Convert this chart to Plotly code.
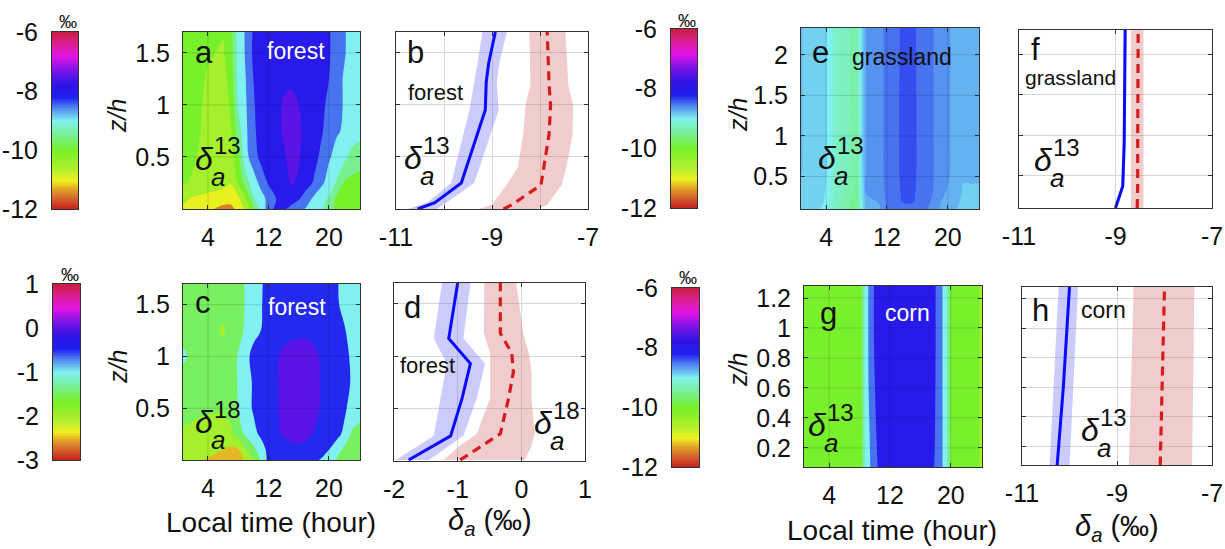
import numpy as np
import plotly.graph_objects as go

W, H = 1225, 549
FONT = "Arial, Liberation Sans, Helvetica, sans-serif"

# ------------------------------------------------------------------ data
# diurnal fields: rows = heights (z/h), columns = local time (hour)
HOURS_A = [0.5, 2, 4, 6, 7, 8, 9, 10, 11, 12, 13, 14, 15, 16, 17, 18, 19, 20, 21, 22, 23, 24.5]
Z_A = [0.0, 0.1, 0.25, 0.5, 0.75, 1.0, 1.25, 1.5, 1.75]
D13_FOREST = [
    [-10.8, -11.0, -11.15, -11.4, -11.4, -11.1, -10.6, -9.9, -9.1, -8.5, -8.1, -8.15, -8.4, -8.6, -8.8, -9.0, -9.2, -9.5, -9.9, -10.0, -10.1, -10.1],
    [-10.6, -10.8, -10.9, -11.0, -11.05, -10.85, -10.3, -9.3, -8.95, -8.6, -8.25, -8.05, -8.0, -8.2, -8.5, -8.85, -9.1, -9.3, -9.85, -10.0, -10.0, -10.0],
    [-10.2, -10.3, -10.5, -10.6, -10.72, -10.2, -9.5, -9.0, -8.6, -8.2, -8.0, -7.95, -7.72, -7.8, -8.05, -8.3, -8.65, -8.95, -9.3, -9.8, -9.9, -9.9],
    [-10.1, -10.2, -10.4, -10.5, -10.45, -9.9, -8.9, -8.5, -8.1, -8.0, -7.95, -7.8, -7.65, -7.72, -7.95, -8.1, -8.35, -8.7, -8.9, -9.1, -9.4, -9.6],
    [-10.0, -10.1, -10.4, -10.5, -10.3, -9.5, -8.85, -8.35, -8.05, -7.95, -7.9, -7.7, -7.6, -7.68, -7.9, -8.05, -8.2, -8.45, -8.7, -8.8, -9.0, -9.1],
    [-10.0, -10.1, -10.35, -10.45, -10.2, -9.2, -8.8, -8.3, -8.05, -7.95, -7.9, -7.7, -7.6, -7.75, -7.95, -8.05, -8.2, -8.3, -8.55, -8.8, -9.0, -9.1],
    [-10.0, -10.05, -10.3, -10.4, -10.1, -9.1, -8.75, -8.25, -8.05, -7.95, -7.9, -7.85, -7.85, -7.9, -7.95, -8.0, -8.15, -8.25, -8.55, -8.8, -8.95, -9.1],
    [-10.0, -10.0, -10.2, -10.3, -10.0, -9.05, -8.7, -8.15, -8.0, -7.95, -7.9, -7.9, -7.9, -7.9, -7.95, -8.0, -8.1, -8.2, -8.5, -8.7, -8.95, -9.1],
    [-10.0, -10.0, -10.1, -10.2, -9.95, -9.0, -8.7, -8.2, -8.0, -7.95, -7.9, -7.9, -7.9, -7.9, -7.95, -8.0, -8.1, -8.2, -8.5, -8.7, -8.95, -9.1],
]
D18_FOREST = [
    [-2.0, -2.1, -2.3, -2.45, -2.5, -2.4, -2.2, -1.8, -1.2, -0.6, -0.5, -0.45, -0.45, -0.5, -0.55, -0.65, -0.8, -1.0, -1.3, -1.55, -1.6, -1.6],
    [-1.9, -2.0, -2.1, -2.25, -2.35, -2.3, -1.8, -1.4, -1.0, -0.6, -0.45, -0.4, -0.35, -0.35, -0.4, -0.45, -0.55, -0.75, -1.0, -1.35, -1.5, -1.55],
    [-1.8, -1.85, -1.9, -1.95, -1.85, -1.5, -1.15, -0.9, -0.65, -0.45, -0.3, -0.22, -0.15, -0.1, -0.15, -0.28, -0.3, -0.45, -0.6, -0.85, -1.3, -1.5],
    [-1.6, -1.65, -1.7, -1.7, -1.6, -1.25, -0.95, -0.7, -0.5, -0.4, -0.3, -0.15, -0.05, 0.0, 0.0, -0.1, -0.3, -0.4, -0.5, -0.65, -0.95, -1.05],
    [-1.5, -1.55, -1.6, -1.6, -1.55, -1.2, -0.95, -0.7, -0.5, -0.4, -0.3, -0.15, -0.05, 0.0, 0.0, -0.1, -0.3, -0.4, -0.45, -0.55, -0.8, -0.95],
    [-1.1, -1.4, -1.55, -1.6, -1.55, -1.2, -0.9, -0.6, -0.5, -0.45, -0.3, -0.15, -0.1, -0.05, -0.05, -0.15, -0.3, -0.4, -0.45, -0.55, -0.85, -1.0],
    [-1.45, -1.5, -1.6, -1.8, -1.6, -1.45, -1.15, -0.9, -0.75, -0.55, -0.45, -0.4, -0.35, -0.35, -0.35, -0.4, -0.45, -0.5, -0.55, -0.7, -0.95, -1.05],
    [-1.5, -1.55, -1.65, -1.6, -1.55, -1.45, -1.2, -0.95, -0.78, -0.6, -0.5, -0.45, -0.4, -0.4, -0.4, -0.45, -0.5, -0.55, -0.68, -0.88, -1.0, -1.05],
    [-1.5, -1.55, -1.6, -1.6, -1.55, -1.45, -1.2, -0.95, -0.8, -0.6, -0.5, -0.45, -0.4, -0.4, -0.4, -0.45, -0.5, -0.55, -0.7, -0.9, -1.0, -1.05],
]
HOURS_E = [0.5, 2, 3.5, 4.5, 5.5, 7, 8, 8.7, 9.3, 11, 12, 13, 14, 15.5, 16.5, 18, 19, 20, 21, 22, 23, 24.5]
Z_E = [0.1, 0.3, 0.6, 1.0, 1.5, 2.0, 2.4]
D13_GRASS = [
    [-8.85, -8.9, -8.95, -9.1, -9.3, -9.45, -9.55, -9.0, -8.75, -8.7, -8.55, -8.52, -8.45, -8.45, -8.52, -8.6, -8.7, -8.8, -8.8, -8.85, -8.85, -8.85],
    [-8.82, -8.87, -8.88, -9.05, -9.27, -9.35, -9.5, -8.95, -8.68, -8.66, -8.52, -8.5, -8.42, -8.42, -8.5, -8.56, -8.66, -8.7, -8.77, -8.82, -8.82, -8.82],
    [-8.8, -8.85, -8.85, -9.0, -9.25, -9.3, -9.45, -8.9, -8.66, -8.64, -8.5, -8.5, -8.4, -8.4, -8.5, -8.55, -8.65, -8.66, -8.75, -8.8, -8.8, -8.8],
    [-8.8, -8.85, -8.85, -9.0, -9.25, -9.3, -9.45, -8.9, -8.66, -8.64, -8.5, -8.5, -8.4, -8.4, -8.5, -8.55, -8.65, -8.66, -8.75, -8.8, -8.8, -8.8],
    [-8.8, -8.85, -8.85, -9.0, -9.25, -9.3, -9.42, -8.9, -8.66, -8.64, -8.5, -8.5, -8.4, -8.4, -8.5, -8.55, -8.65, -8.66, -8.75, -8.8, -8.8, -8.8],
    [-8.8, -8.85, -8.85, -9.0, -9.25, -9.3, -9.4, -8.9, -8.66, -8.64, -8.5, -8.5, -8.41, -8.41, -8.5, -8.55, -8.65, -8.66, -8.75, -8.8, -8.8, -8.8],
    [-8.8, -8.85, -8.85, -9.0, -9.25, -9.3, -9.4, -8.9, -8.66, -8.64, -8.5, -8.5, -8.41, -8.41, -8.5, -8.55, -8.65, -8.66, -8.75, -8.8, -8.8, -8.8],
]
HOURS_G = [0.5, 3, 6, 7.5, 8.2, 8.8, 9.5, 10.3, 11, 13, 15, 17, 17.7, 18.5, 19.3, 20, 22, 23.5, 24.5]
Z_G = [0.05, 0.3, 0.6, 0.9, 1.3]
D13_CORN = [
    [-10.0, -10.0, -10.0, -10.0, -9.95, -9.1, -8.7, -8.3, -7.95, -7.85, -7.85, -7.95, -8.2, -8.55, -8.95, -9.8, -10.0, -10.15, -10.5],
    [-10.0, -10.0, -10.0, -10.0, -9.93, -9.05, -8.65, -8.2, -7.95, -7.85, -7.85, -7.95, -8.15, -8.52, -8.97, -9.85, -10.0, -10.15, -10.5],
    [-10.0, -10.0, -10.0, -10.0, -9.9, -9.0, -8.55, -8.1, -7.92, -7.85, -7.85, -7.92, -8.12, -8.5, -9.0, -9.9, -10.0, -10.15, -10.5],
    [-10.0, -10.0, -10.0, -10.0, -9.9, -9.0, -8.5, -8.0, -7.9, -7.85, -7.85, -7.9, -8.1, -8.5, -9.0, -9.9, -10.0, -10.15, -10.5],
    [-10.0, -10.0, -10.0, -10.0, -9.9, -9.0, -8.5, -8.0, -7.9, -7.85, -7.85, -7.9, -8.1, -8.5, -9.0, -9.9, -10.0, -10.15, -10.5],
]

# vertical profiles (blue = one period, red dashed = the other), with spread bands
B_Z_BLUE = [0.0, 0.06, 0.25, 0.95, 1.22, 1.4, 1.7]
B_BLUE = [-10.55, -10.19, -9.64, -9.14, -9.12, -9.07, -8.93]
B_BLUE_LO = [-10.76, -10.35, -9.85, -9.47, -9.37, -9.3, -9.2]
B_BLUE_HI = [-10.15, -9.95, -9.37, -8.86, -8.9, -8.85, -8.69]
B_Z_RED = [0.0, 0.04, 0.23, 0.4, 0.72, 1.0, 1.19, 1.7]
B_RED = [-8.76, -8.59, -7.98, -7.92, -7.81, -7.78, -7.81, -7.85]
B_RED_LO = [-9.27, -9.0, -8.7, -8.46, -8.35, -8.3, -8.2, -8.22]
B_RED_HI = [-8.05, -7.85, -7.55, -7.45, -7.32, -7.31, -7.41, -7.47]

D_Z_BLUE = [0.01, 0.24, 0.6, 0.93, 1.17, 1.7]
D_BLUE = [-1.77, -1.11, -0.93, -0.80, -1.14, -1.0]
D_BLUE_LO = [-1.97, -1.375, -1.27, -1.17, -1.375, -1.245]
D_BLUE_HI = [-1.45, -0.91, -0.7, -0.57, -0.91, -0.80]
D_Z_RED = [0.01, 0.13, 0.26, 0.6, 0.85, 1.03, 1.22, 1.7]
D_RED = [-0.96, -0.65, -0.33, -0.20, -0.125, -0.15, -0.33, -0.33]
D_RED_LO = [-1.22, -1.0, -0.70, -0.49, -0.49, -0.49, -0.59, -0.58]
D_RED_HI = [0.05, 0.15, 0.21, 0.16, 0.16, 0.12, 0.03, -0.08]

F_Z = [0.1, 0.37, 0.9, 2.3]
F_BLUE = [-9.0, -8.85, -8.82, -8.80]
F_BLUE_LO = [-9.03, -8.88, -8.85, -8.83]
F_BLUE_HI = [-8.97, -8.82, -8.79, -8.77]
F_RED = [-8.55, -8.54, -8.54, -8.53]
F_RED_LO = [-8.68, -8.68, -8.68, -8.68]
F_RED_HI = [-8.42, -8.42, -8.42, -8.42]

H_Z = [0.07, 0.6, 1.28]
H_BLUE = [-10.26, -10.13, -10.0]
H_BLUE_LO = [-10.42, -10.33, -10.23]
H_BLUE_HI = [-10.0, -9.92, -9.82]
H_RED = [-8.09, -8.05, -8.0]
H_RED_LO = [-8.75, -8.7, -8.65]
H_RED_HI = [-7.42, -7.4, -7.37]

TIME_TICKS = [4, 12, 20]
CB13_TICKS = [-12, -10, -8, -6]
CB18_TICKS = [-3, -2, -1, 0, 1]

# ------------------------------------------------------------------ style
CSCALE = [
    [0.00, '#c81e1e'], [0.06, '#d2642d'], [0.11, '#e0a028'], [0.16, '#f0f01e'],
    [0.22, '#b4f02d'], [0.33, '#78f028'], [0.42, '#78f096'], [0.50, '#80f0f0'],
    [0.58, '#4a78f0'], [0.63, '#2020f0'], [0.70, '#2d14e6'], [0.78, '#7814e6'],
    [0.86, '#e014e6'], [0.93, '#dc1e96'], [1.00, '#c81e3c'],
]
BLUE_FILL = 'rgba(110,110,245,0.35)'
RED_FILL = 'rgba(215,110,110,0.35)'

BOXES = {
    1: ((183, 360), (32, 209)),     # a
    2: ((396, 588), (32, 209)),     # b
    3: ((183, 360), (284, 460)),    # c
    4: ((394, 585), (283, 461)),    # d
    5: ((801, 979), (28, 209)),     # e
    6: ((1019, 1212), (30, 208)),   # f
    7: ((804, 982), (286, 467)),    # g
    8: ((1022, 1212), (287, 465)),  # h
    9: ((52, 78), (32, 209)),       # colourbars
    10: ((53, 80), (284, 460)),
    11: ((671, 697), (29, 208)),
    12: ((672, 699), (288, 467)),
}


def xa(i):
    return 'x' if i == 1 else f'x{i}'


def ya(i):
    return 'y' if i == 1 else f'y{i}'


fig = go.Figure()
layout = dict(width=W, height=H, margin=dict(l=0, r=0, t=0, b=0, pad=0, autoexpand=False),
              autosize=False, paper_bgcolor='white', plot_bgcolor='white', showlegend=False,
              font=dict(family=FONT, size=24, color='#111'))

TICKFONT = dict(family=FONT, size=25, color='#111')


def base_axis(**kw):
    d = dict(showline=True, linecolor='#333', linewidth=1, mirror='ticks', ticks='inside',
             ticklen=4, tickcolor='#333', zeroline=False, tickfont=TICKFONT, showgrid=True,
             gridcolor='#d8d8d8', gridwidth=1, fixedrange=True, automargin=False)
    d.update(kw)
    return d


for i, ((x0, x1), (y0, y1)) in BOXES.items():
    layout['xaxis' if i == 1 else f'xaxis{i}'] = dict(domain=[x0 / W, x1 / W], anchor=ya(i))
    layout['yaxis' if i == 1 else f'yaxis{i}'] = dict(domain=[1 - y1 / H, 1 - y0 / H], anchor=xa(i))


def set_axes(i, xkw, ykw):
    layout['xaxis' if i == 1 else f'xaxis{i}'].update(base_axis(**xkw))
    layout['yaxis' if i == 1 else f'yaxis{i}'].update(base_axis(**ykw))


def lbl(v):
    return ('%g' % v)


shapes = []


def contour_panel(i, hours, zs, field, vmin, vmax, size, yrange, yticks):
    nbands = round((vmax - vmin) / size)
    start = vmin + size / 2
    end = start + (nbands - 1) * size
    fig.add_trace(go.Contour(x=hours, y=zs, z=field, colorscale=CSCALE, showscale=False,
                             autocontour=False,
                             contours=dict(start=start, end=end, size=size, coloring='fill',
                                           showlines=False),
                             line=dict(width=0), hoverinfo='skip',
                             xaxis=xa(i), yaxis=ya(i)))
    set_axes(i,
             dict(range=[0.7, 24.1], tickvals=TIME_TICKS, ticktext=[lbl(v) for v in TIME_TICKS],
                  showgrid=False, ticklabelstandoff=6),
             dict(range=yrange, tickvals=yticks, ticktext=[lbl(v) for v in yticks],
                  showgrid=False, ticklabelstandoff=7))
    for tv in TIME_TICKS:
        shapes.append(dict(type='line', xref=xa(i), yref=ya(i) + ' domain', x0=tv, x1=tv, y0=0, y1=1,
                           line=dict(color='rgba(0,0,0,0.13)', width=1), layer='above'))
    for tv in yticks:
        shapes.append(dict(type='line', xref=xa(i) + ' domain', yref=ya(i), x0=0, x1=1, y0=tv, y1=tv,
                           line=dict(color='rgba(0,0,0,0.13)', width=1), layer='above'))


def band(i, zs, lo, hi, color):
    fig.add_trace(go.Scatter(x=list(lo) + list(hi)[::-1], y=list(zs) + list(zs)[::-1],
                             fill='toself', fillcolor=color, mode='lines', line=dict(width=0),
                             hoverinfo='skip', xaxis=xa(i), yaxis=ya(i)))


def profile_panel(i, zb, blue, blo, bhi, zr, red, rlo, rhi, xrange, xticks, xlabels, yrange, yticks):
    band(i, zb, blo, bhi, BLUE_FILL)
    band(i, zr, rlo, rhi, RED_FILL)
    fig.add_trace(go.Scatter(x=blue, y=zb, mode='lines', line=dict(color='#0a0aff', width=3),
                             hoverinfo='skip', xaxis=xa(i), yaxis=ya(i)))
    fig.add_trace(go.Scatter(x=red, y=zr, mode='lines',
                             line=dict(color='#d41c1c', width=3.2, dash='9px,6px'),
                             hoverinfo='skip', xaxis=xa(i), yaxis=ya(i)))
    set_axes(i,
             dict(range=xrange, tickvals=xticks, ticktext=xlabels, ticklabelstandoff=6),
             dict(range=yrange, tickvals=yticks, showticklabels=False))


def colorbar_panel(i, vmin, vmax, ticks):
    vals = np.linspace(vmin, vmax, 241)
    fig.add_trace(go.Heatmap(x=[0], y=vals, z=[[v] for v in vals], colorscale=CSCALE,
                             zmin=vmin, zmax=vmax, showscale=False, hoverinfo='skip',
                             xaxis=xa(i), yaxis=ya(i)))
    set_axes(i,
             dict(range=[-0.5, 0.5], showticklabels=False, ticks='', showgrid=False, mirror=True),
             dict(range=[vmin, vmax], tickvals=ticks, ticktext=[lbl(v) for v in ticks], ticks='',
                  showgrid=False, mirror=True, ticklabelstandoff=8))


# ------------------------------------------------------------------ panels
contour_panel(1, HOURS_A, Z_A, D13_FOREST, -12, -6, 0.5, [0, 1.7], [0.5, 1, 1.5])
contour_panel(3, HOURS_A, Z_A, D18_FOREST, -3, 1, 0.5, [0, 1.7], [0.5, 1, 1.5])
contour_panel(5, HOURS_E, Z_E, D13_GRASS, -12, -6, 0.125, [0.1, 2.33], [0.5, 1, 1.5, 2])
contour_panel(7, HOURS_G, Z_G, D13_CORN, -12, -6, 0.5, [0.073, 1.28], [0.2, 0.4, 0.6, 0.8, 1, 1.2])

X13 = [-11, -10, -9, -8, -7]
X13L = ['-11', '', '-9', '', '-7']
X13B = [-11, -9, -7]
X13BL = ['-11', '-9', '-7']
profile_panel(2, B_Z_BLUE, B_BLUE, B_BLUE_LO, B_BLUE_HI, B_Z_RED, B_RED, B_RED_LO, B_RED_HI,
              [-11, -7], X13, X13L, [0, 1.7], [0.5, 1, 1.5])
profile_panel(4, D_Z_BLUE, D_BLUE, D_BLUE_LO, D_BLUE_HI, D_Z_RED, D_RED, D_RED_LO, D_RED_HI,
              [-2, 1], [-2, -1, 0, 1], ['-2', '-1', '0', '1'], [0, 1.7], [0.5, 1, 1.5])
profile_panel(6, F_Z, F_BLUE, F_BLUE_LO, F_BLUE_HI, F_Z, F_RED, F_RED_LO, F_RED_HI,
              [-11, -7], X13B, X13BL, [0.1, 2.3], [0.5, 1, 1.5, 2])
profile_panel(8, H_Z, H_BLUE, H_BLUE_LO, H_BLUE_HI, H_Z, H_RED, H_RED_LO, H_RED_HI,
              [-11, -7], X13B, X13BL, [0.073, 1.28], [0.2, 0.4, 0.6, 0.8, 1, 1.2])

colorbar_panel(9, -12, -6, CB13_TICKS)
colorbar_panel(10, -3, 1, CB18_TICKS)
colorbar_panel(11, -12, -6, CB13_TICKS)
colorbar_panel(12, -12, -6, CB13_TICKS)

# ------------------------------------------------------------------ text
annotations = []


def ann(text, x, y, size, color='#111', angle=0, xanchor='center'):
    annotations.append(dict(text=text, x=x / W, y=1 - y / H, xref='paper', yref='paper',
                            showarrow=False, xanchor=xanchor, yanchor='middle', textangle=angle,
                            font=dict(family=FONT, size=size, color=color)))


def delta(x, y, iso):
    ann('<i>δ</i>', x, y, 32)
    ann(iso, x + 23, y - 13, 24)
    ann('<i>a</i>', x + 14, y + 18, 26)


# panel letters
for t, x, y in [('a', 204, 52), ('b', 415, 53), ('c', 203, 302), ('d', 412, 307),
                ('e', 820, 53), ('f', 1035, 50), ('g', 828, 313), ('h', 1040, 310)]:
    ann(t, x, y, 31)

ann('forest', 296, 51, 23, 'white')
ann('forest', 297, 307, 23, 'white')
ann('forest', 435, 93, 22)
ann('forest', 427, 365, 22)
ann('grassland', 902, 57, 23)
ann('grassland', 1070, 78, 21)
ann('corn', 907, 313, 23, 'white')
ann('corn', 1103, 310, 23)

delta(204, 159, '13')
delta(413, 158, '13')
delta(204, 422, '18')
delta(543, 423, '18')
delta(827, 158, '13')
delta(1043, 160, '13')
delta(817, 425, '13')
delta(1090, 430, '13')

for x, y in [(117, 116), (118, 367), (738, 115), (738, 370)]:
    ann('<i>z/h</i>', x, y, 25, angle=-90)

for x, y in [(68, 22), (70, 275), (687, 21), (688, 278)]:
    ann('‰', x, y, 18)

ann('Local time (hour)', 271, 522, 28)
ann('Local time (hour)', 892, 530, 28)
ann('<i>δ</i><sub><i>a</i></sub> (‰)', 490, 522, 29)
ann('<i>δ</i><sub><i>a</i></sub> (‰)', 1117, 528, 29)

layout['annotations'] = annotations
layout['shapes'] = shapes
fig.update_layout(**layout)
fig.write_html('out.html')
